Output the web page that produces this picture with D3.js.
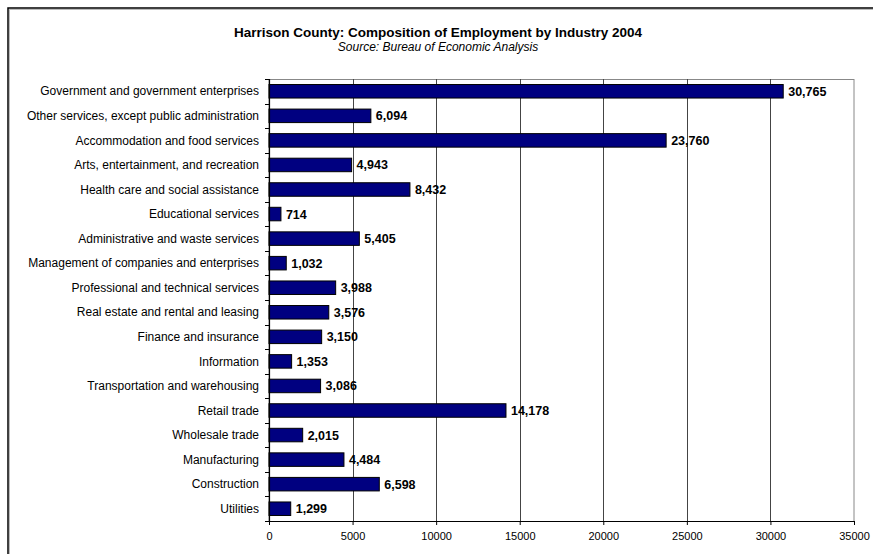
<!DOCTYPE html>
<html>
<head>
<meta charset="utf-8">
<script src="https://d3js.org/d3.v7.min.js"></script>
<style>
  html, body { margin: 0; padding: 0; background: #fff; }
  svg { display: block; font-family: "Liberation Sans", Arial, sans-serif; }
</style>
</head>
<body>
<svg id="chart" width="873" height="554"></svg>
<script>
// Employment by industry, Harrison County, 2004 (top to bottom)
const industries = [
  "Government and government enterprises",
  "Other services, except public administration",
  "Accommodation and food services",
  "Arts, entertainment, and recreation",
  "Health care and social assistance",
  "Educational services",
  "Administrative and waste services",
  "Management of companies and enterprises",
  "Professional and technical services",
  "Real estate and rental and leasing",
  "Finance and insurance",
  "Information",
  "Transportation and warehousing",
  "Retail trade",
  "Wholesale trade",
  "Manufacturing",
  "Construction",
  "Utilities"
];
const employment = [30765, 6094, 23760, 4943, 8432, 714, 5405, 1032, 3988, 3576, 3150, 1353, 3086, 14178, 2015, 4484, 6598, 1299];
const xTicks = [0, 5000, 10000, 15000, 20000, 25000, 30000, 35000];

const rows = industries.map((name, i) => ({ name, value: employment[i] }));

const svg = d3.select("#chart");
const plot = { left: 269, right: 854, top: 79, bottom: 521 };

// outer chart frame
svg.append("rect")
  .attr("x", 9.5).attr("y", 9.5)
  .attr("width", 900).attr("height", 600)
  .attr("fill", "none").attr("stroke", "#bbb").attr("stroke-width", 1);
svg.append("rect")
  .attr("x", 8).attr("y", 8)
  .attr("width", 900).attr("height", 600)
  .attr("fill", "none").attr("stroke", "#000").attr("stroke-width", 1.5);

svg.append("text")
  .attr("x", 438).attr("y", 37)
  .attr("text-anchor", "middle")
  .attr("font-size", 13.5).attr("font-weight", "bold")
  .text("Harrison County: Composition of Employment by Industry 2004");
svg.append("text")
  .attr("x", 438).attr("y", 51)
  .attr("text-anchor", "middle")
  .attr("font-size", 12).attr("font-style", "italic")
  .text("Source: Bureau of Economic Analysis");

const x = d3.scaleLinear().domain([0, 35000]).range([plot.left, plot.right]);
const y = d3.scaleBand().domain(industries).range([plot.top, plot.bottom]).paddingInner(0.45).paddingOuter(0.225);

// plot area border
svg.append("rect")
  .attr("x", plot.left).attr("y", plot.top + 0.5)
  .attr("width", plot.right - plot.left).attr("height", plot.bottom - plot.top)
  .attr("fill", "none").attr("stroke", "#888").attr("stroke-width", 1);

// vertical gridlines
svg.append("g").selectAll("line")
  .data(xTicks.slice(1, -1))
  .join("line")
  .attr("x1", d => Math.round(x(d)) + 0.5).attr("x2", d => Math.round(x(d)) + 0.5)
  .attr("y1", plot.top).attr("y2", plot.bottom)
  .attr("stroke", "#444").attr("stroke-width", 1);

// bars
svg.append("g").selectAll("rect")
  .data(rows)
  .join("rect")
  .attr("x", x(0))
  .attr("y", d => y(d.name))
  .attr("width", d => x(d.value) - x(0))
  .attr("height", y.bandwidth())
  .attr("fill", "#000080")
  .attr("stroke", "#000").attr("stroke-width", 1);

// value labels
svg.append("g").selectAll("text")
  .data(rows)
  .join("text")
  .attr("x", d => x(d.value) + 5)
  .attr("y", d => y(d.name) + y.bandwidth() / 2)
  .attr("dy", "0.36em")
  .attr("font-size", 12.5).attr("font-weight", "bold")
  .text(d => d3.format(",")(d.value));

// x axis
const xAxis = d3.axisBottom(x).tickValues(xTicks).tickFormat(d3.format("d")).tickSize(4).tickSizeOuter(0);
const gx = svg.append("g").attr("transform", `translate(0,${plot.bottom})`).call(xAxis);
gx.select(".domain").attr("stroke", "#000").attr("stroke-width", 1.2);
gx.selectAll(".tick line").attr("stroke", "#000");
gx.selectAll(".tick text").attr("font-size", 11).attr("font-family", "Liberation Sans, Arial, sans-serif").attr("fill", "#000").attr("dy", "1.1em");

// y axis: tick marks at band boundaries, labels centred on bands
const yAxisG = svg.append("g");
yAxisG.append("line")
  .attr("x1", plot.left + 0.5).attr("x2", plot.left + 0.5)
  .attr("y1", plot.top).attr("y2", plot.bottom)
  .attr("stroke", "#000").attr("stroke-width", 1.2);
const boundaries = d3.range(industries.length + 1).map(i => plot.top + i * (plot.bottom - plot.top) / industries.length);
yAxisG.selectAll("line.tk")
  .data(boundaries)
  .join("line").attr("class", "tk")
  .attr("x1", plot.left - 4).attr("x2", plot.left)
  .attr("y1", d => Math.round(d) + 0.5).attr("y2", d => Math.round(d) + 0.5)
  .attr("stroke", "#000");
yAxisG.selectAll("text")
  .data(industries)
  .join("text")
  .attr("x", plot.left - 10)
  .attr("y", d => y(d) + y.bandwidth() / 2)
  .attr("dy", "0.35em")
  .attr("text-anchor", "end")
  .attr("font-size", 12)
  .text(d => d);
</script>
</body>
</html>
